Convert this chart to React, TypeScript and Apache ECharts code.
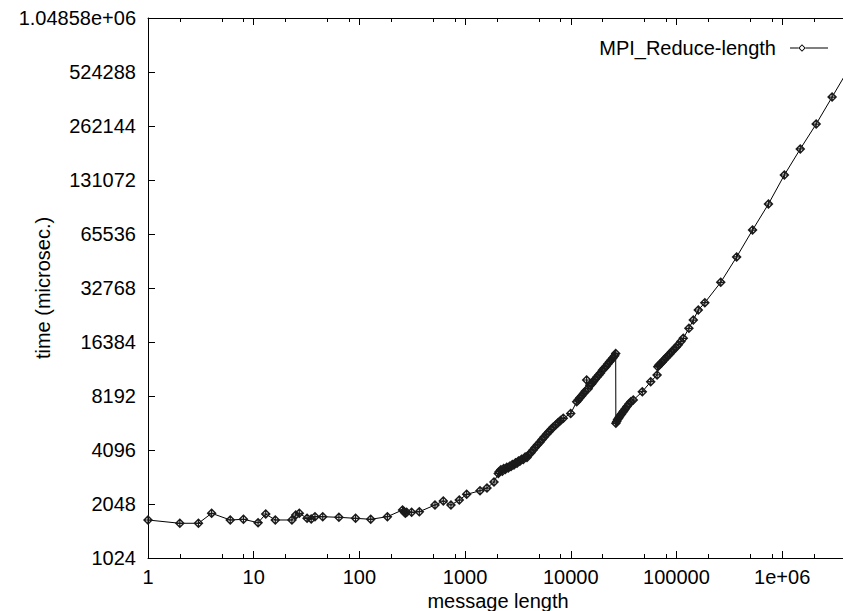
import React, { useEffect, useRef } from "react";
import * as echarts from "echarts";

// message length (bytes)
const msgLength: number[] = [
  1, 2, 3, 4, 6, 8, 11, 13, 16, 23, 25, 27, 32, 35, 38, 45, 64, 92, 128, 184,
  256, 264, 272, 280, 312, 369, 519, 622, 735, 881, 1035, 1384, 1611, 1877, 2061,
  2100, 2180, 2250, 2320, 2400, 2480, 2560, 2640, 2720, 2800,
  2900, 3000, 3100, 3200, 3300, 3420, 3550, 3700, 3850, 4000,
  4200, 4400, 4600, 4850, 5100, 5350, 5600, 5900, 6200, 6500,
  6800, 7200, 7600, 8000, 8490,
  9980,
  11370, 11800, 12200, 12700, 13200, 13700, 14130, 14600, 15200, 15800,
  16400, 17000, 17700, 18400, 19100, 19900, 20700, 21500, 22400, 23300,
  24200, 25100, 26000, 26600,
  26700, 27200, 27700, 28300, 28900, 29500, 30200, 31000, 31800, 32800,
  34000, 35500, 37000, 39000,
  47500, 57000, 65536, 66500, 68000, 70500, 73000, 76000, 79000, 82000,
  86000, 90000, 94000, 99000, 104000, 110000, 115900,
  131072, 144300, 160800, 185364, 262144, 370728, 524288, 741455, 1048576,
  1482910, 2097152, 2965821, 4194304,
];

// time (microsec.)
const timeMicro: number[] = [
  1668, 1599, 1599, 1818, 1668, 1683, 1611, 1801, 1668, 1668, 1778, 1818, 1704, 1688, 1740, 1740, 1726, 1704, 1683, 1740,
  1897, 1860, 1818, 1841, 1841, 1855, 2022, 2128, 2022, 2155, 2318, 2428, 2513, 2716, 3033,
  3100, 3180, 3120, 3230, 3190, 3280, 3250, 3330, 3310, 3400,
  3380, 3480, 3460, 3560, 3540, 3640, 3620, 3740, 3720, 3850,
  3950, 4100, 4230, 4380, 4520, 4680, 4840, 5020, 5180, 5330,
  5490, 5650, 5830, 5980, 6150,
  6540,
  7610, 7800, 8010, 8230, 8460, 8700, 10060, 9000, 9360, 9600,
  9880, 10150, 10450, 10720, 11020, 11400, 11700, 11980, 12350, 12700,
  13050, 13400, 13730, 14150,
  5770, 5900, 6050, 6150, 6280, 6400, 6500, 6650, 6780, 6950,
  7150, 7400, 7600, 7770,
  8660, 9840, 10730, 11930, 12150, 12400, 12650, 13000, 13300, 13650,
  14000, 14450, 14850, 15300, 15800, 16500, 17180,
  19540, 21720, 24700, 27140, 35260, 48800, 68950, 96300, 139800,
  195200, 268800, 380000, 538000,
];

const seriesName = "MPI_Reduce-length";
const xTitle = "message length";
const yTitle = "time (microsec.)";
const xMinorTicks: number[] = [
  2, 5, 8, 20, 50, 80, 200, 500, 800, 2000, 5000, 8000, 20000, 50000, 80000,
  200000, 500000, 800000, 2000000,
];

const FONT = "'Liberation Sans', Arial, Helvetica, sans-serif";

function gfmt(v: number): string {
  if (v === 0) return "0";
  const exp = Math.floor(Math.log10(Math.abs(v)) + 1e-12);
  if (exp < -4 || exp >= 6) {
    const parts = v.toExponential(5).split("e");
    const m = parts[0].replace(/\.?0+$/, "");
    const en = parseInt(parts[1], 10);
    return m + "e" + (en < 0 ? "-" : "+") + String(Math.abs(en)).padStart(2, "0");
  }
  return String(parseFloat(v.toPrecision(6)));
}

function isPow10(v: number): boolean {
  const l = Math.log10(v);
  return Math.abs(l - Math.round(l)) < 1e-9;
}

const markerPath =
  "path://M5 0 L10 5 L5 10 L0 5 Z M5 2 L2 5 L5 8 L8 5 Z M4.4 0.6 H5.6 V9.4 H4.4 Z M0.6 4.4 H9.4 V5.6 H0.6 Z";
const legendPath =
  "path://M0 3.95 L0.01 3.95 L0.01 4.05 Z M9 3.5 H17.3 V4.5 H9 Z M21 0.3 L24.7 4 L21 7.7 L17.3 4 Z M21 1.6 L18.6 4 L21 6.4 L23.4 4 Z M24.7 3.5 H47 V4.5 H24.7 Z";

export default function App() {
  const ref = useRef<HTMLDivElement>(null);

  useEffect(() => {
    if (!ref.current) return;
    const chart = echarts.init(ref.current, undefined, { renderer: "svg" });
    const data = msgLength.map((x, i) => [x, timeMicro[i]]);
    const xMin = 1;
    const xMax = 4194304;
    const baseX = {
      type: "log",
      logBase: 10,
      min: xMin,
      max: xMax,
      interval: 1,
      splitLine: { show: false },
      minorTick: { show: false },
    };
    const option: any = {
      animation: false,
      backgroundColor: "#ffffff",
      textStyle: { fontFamily: FONT },
      grid: {
        left: 148,
        top: 18,
        right: -5,
        bottom: 53,
        show: false,
        containLabel: false,
        outerBoundsMode: "none",
      },
      legend: {
        show: true,
        right: 15,
        top: 38,
        padding: 0,
        align: "right",
        itemWidth: 47,
        itemHeight: 7.4,
        selectedMode: false,
        textStyle: { fontSize: 20, color: "#000", fontFamily: FONT },
        itemStyle: { color: "#000", borderWidth: 0 },
        data: [{ name: seriesName, icon: legendPath }],
      },
      xAxis: [
        {
          ...baseX,
          position: "bottom",
          name: xTitle,
          nameLocation: "middle",
          nameGap: 33,
          nameMoveOverlap: false,
          nameTextStyle: { fontSize: 20, color: "#000", fontFamily: FONT },
          axisLine: { show: true, lineStyle: { color: "#000", width: 1 } },
          axisTick: { show: true, inside: true, length: 7, lineStyle: { color: "#000" } },
          axisLabel: {
            show: true,
            margin: 9,
            fontSize: 20,
            color: "#000",
            fontFamily: FONT,
            formatter: (v: number) => (isPow10(v) ? gfmt(v) : ""),
          },
        },
        {
          ...baseX,
          position: "bottom",
          axisLine: { show: false },
          axisLabel: { show: false },
          axisTick: {
            show: true,
            inside: true,
            length: 4,
            customValues: xMinorTicks,
            lineStyle: { color: "#000" },
          },
        },
        {
          ...baseX,
          position: "top",
          axisLine: { show: true, lineStyle: { color: "#000", width: 1 } },
          axisLabel: { show: false },
          axisTick: { show: true, inside: true, length: 7, lineStyle: { color: "#000" } },
        },
        {
          ...baseX,
          position: "top",
          axisLine: { show: false },
          axisLabel: { show: false },
          axisTick: {
            show: true,
            inside: true,
            length: 4,
            customValues: xMinorTicks,
            lineStyle: { color: "#000" },
          },
        },
      ],
      yAxis: {
        type: "log",
        logBase: 2,
        min: 1024,
        max: 1048576,
        interval: 1,
        position: "left",
        name: yTitle,
        nameLocation: "middle",
        nameGap: 95,
        nameMoveOverlap: false,
        nameTextStyle: { fontSize: 20, color: "#000", fontFamily: FONT },
        splitLine: { show: false },
        axisLine: { show: true, lineStyle: { color: "#000", width: 1 } },
        axisTick: { show: true, inside: true, length: 7, lineStyle: { color: "#000" } },
        axisLabel: {
          show: true,
          margin: 12,
          fontSize: 20,
          color: "#000",
          fontFamily: FONT,
          formatter: (v: number) => gfmt(v),
        },
      },
      series: [
        {
          type: "line",
          name: seriesName,
          xAxisIndex: 0,
          yAxisIndex: 0,
          data,
          symbol: markerPath,
          symbolSize: 10,
          showSymbol: true,
          itemStyle: { color: "#1a1a1a", borderWidth: 0 },
          lineStyle: { color: "#000", width: 1 },
          emphasis: { disabled: true },
        },
      ],
    };
    chart.setOption(option);
    return () => chart.dispose();
  }, []);

  return (
    <div
      ref={ref}
      style={{ position: "fixed", left: 0, top: 0, width: 843, height: 611, background: "#fff" }}
    />
  );
}
